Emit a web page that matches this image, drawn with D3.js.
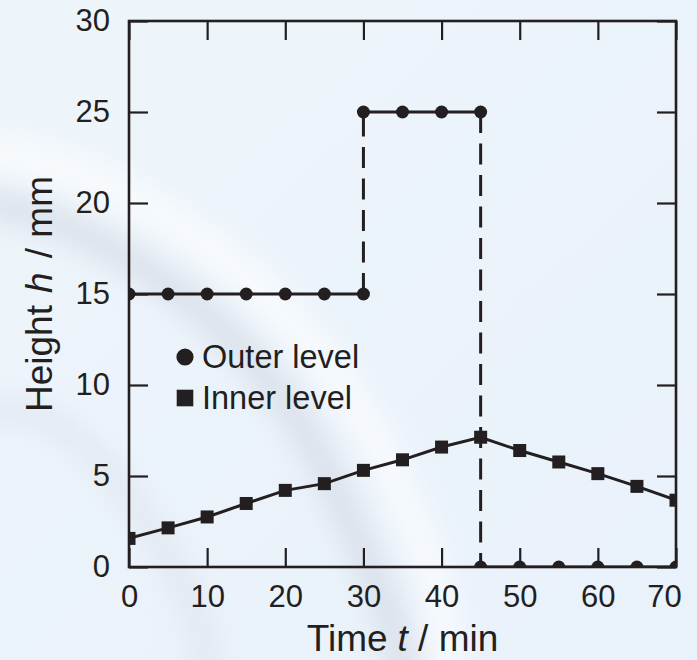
<!DOCTYPE html>
<html>
<head>
<meta charset="utf-8">
<script src="https://cdn.jsdelivr.net/npm/d3@7"></script>
<style>
  html, body { margin: 0; padding: 0; background: #eef6fb; }
  svg { display: block; font-family: "Liberation Sans", Arial, sans-serif; }
</style>
</head>
<body>
<svg id="chart"></svg>
<script>
// data
const innerTimes = [0, 5, 10, 15, 20, 25, 30, 35, 40, 45, 50, 55, 60, 65, 70];
const innerHeights = [1.57, 2.15, 2.75, 3.49, 4.21, 4.58, 5.31, 5.89, 6.59, 7.13, 6.40, 5.77, 5.13, 4.43, 3.67];

// outer level steps: a repeated time means a jump (drawn dashed)
const outerTimes = [0, 5, 10, 15, 20, 25, 30, 30, 35, 40, 45, 45, 50, 55, 60, 65, 70];
const outerHeights = [15, 15, 15, 15, 15, 15, 15, 25, 25, 25, 25, 0, 0, 0, 0, 0, 0];

const xTicks = [0, 10, 20, 30, 40, 50, 60, 70];
const yTicks = [0, 5, 10, 15, 20, 25, 30];
const legendLabels = ["Outer level", "Inner level"];

const ink = "#231f20";
const w = 697, h = 660;
const margin = { top: 21, right: 21, bottom: 93, left: 129 };

const svg = d3.select("#chart").attr("width", w).attr("height", h);

// soft background with faint swooshes
const defs = svg.append("defs");
defs.append("filter").attr("id", "blur")
    .attr("x", "-50%").attr("y", "-50%").attr("width", "200%").attr("height", "200%")
    .append("feGaussianBlur").attr("stdDeviation", 14);
const bgGrad = defs.append("linearGradient").attr("id", "bg")
    .attr("x1", "0").attr("y1", "0").attr("x2", "1").attr("y2", "1");
bgGrad.append("stop").attr("offset", "0").attr("stop-color", "#eef5fa");
bgGrad.append("stop").attr("offset", "1").attr("stop-color", "#e9f1fa");
svg.append("rect").attr("width", w).attr("height", h).attr("fill", "url(#bg)");

const swoosh = svg.append("g").attr("filter", "url(#blur)").attr("fill", "none");
swoosh.append("path")
    .attr("d", "M-20,200 C120,230 260,330 330,480 S400,640 410,700")
    .attr("stroke", "#c9ced8").attr("stroke-width", 26).attr("opacity", 0.55);
swoosh.append("path")
    .attr("d", "M-20,150 C140,170 300,290 380,450 S440,640 450,700")
    .attr("stroke", "#ffffff").attr("stroke-width", 30).attr("opacity", 0.7);
swoosh.append("path")
    .attr("d", "M-20,420 C40,380 120,470 170,560 S200,660 210,700")
    .attr("stroke", "#d3d8e0").attr("stroke-width", 22).attr("opacity", 0.45);

const x = d3.scaleLinear().domain([0, 70]).range([margin.left, w - margin.right]);
const y = d3.scaleLinear().domain([0, 30]).range([h - margin.bottom, margin.top]);

const tickLen = 19;

// axes with inward ticks on all four sides
const bottom = svg.append("g")
    .attr("transform", `translate(0,${y(0)})`)
    .call(d3.axisBottom(x).tickValues(xTicks).tickSize(-tickLen).tickFormat(d3.format("d")));
bottom.selectAll("text").attr("y", 40).attr("dy", null);
bottom.selectAll(".tick").filter(d => d === 70).select("text").attr("dx", -12);

svg.append("g")
    .attr("transform", `translate(0,${y(30)})`)
    .call(d3.axisTop(x).tickValues(xTicks).tickSize(-tickLen).tickFormat(""));

svg.append("g")
    .attr("transform", `translate(${x(0)},0)`)
    .call(d3.axisLeft(y).tickValues(yTicks).tickSize(-tickLen).tickPadding(19).tickFormat(d3.format("d")));

svg.append("g")
    .attr("transform", `translate(${x(70)},0)`)
    .call(d3.axisRight(y).tickValues(yTicks).tickSize(-tickLen).tickFormat(""));

svg.selectAll(".domain").remove();
svg.selectAll(".tick line").attr("stroke", ink).attr("stroke-width", 2.2);
svg.selectAll(".tick text").attr("fill", ink).style("font-size", "31px");

// frame
svg.append("rect")
    .attr("x", x(0)).attr("y", y(30))
    .attr("width", x(70) - x(0)).attr("height", y(0) - y(30))
    .attr("fill", "none").attr("stroke", ink).attr("stroke-width", 2.6);

defs.append("clipPath").attr("id", "plotClip")
    .append("rect")
    .attr("x", x(0)).attr("y", y(30))
    .attr("width", x(70) - x(0)).attr("height", y(0) - y(30));

const plot = svg.append("g").attr("clip-path", "url(#plotClip)");

// outer level: solid between times, dashed on jumps
const outer = outerTimes.map((t, i) => ({ t: t, v: outerHeights[i] }));
const segs = d3.pairs(outer);
plot.append("g")
    .selectAll("line")
    .data(segs)
    .join("line")
    .attr("x1", d => x(d[0].t)).attr("y1", d => y(d[0].v))
    .attr("x2", d => x(d[1].t)).attr("y2", d => y(d[1].v))
    .attr("stroke", ink)
    .attr("stroke-width", 3)
    .attr("stroke-dasharray", d => d[0].t === d[1].t ? "21,10.5" : null);

// inner level line
const inner = innerTimes.map((t, i) => ({ t: t, v: innerHeights[i] }));
plot.append("path")
    .datum(inner)
    .attr("fill", "none")
    .attr("stroke", ink)
    .attr("stroke-width", 3)
    .attr("d", d3.line().x(d => x(d.t)).y(d => y(d.v)));

plot.append("g")
    .selectAll("circle")
    .data(outer)
    .join("circle")
    .attr("cx", d => x(d.t)).attr("cy", d => y(d.v))
    .attr("r", 6.5)
    .attr("fill", ink);

const sq = 13;
plot.append("g")
    .selectAll("rect")
    .data(inner)
    .join("rect")
    .attr("x", d => x(d.t) - sq / 2).attr("y", d => y(d.v) - sq / 2)
    .attr("width", sq).attr("height", sq)
    .attr("fill", ink);

// legend
const legend = svg.append("g").attr("transform", "translate(185,357)");
legend.append("circle").attr("cx", 0).attr("cy", 0).attr("r", 8.6).attr("fill", ink);
legend.append("rect").attr("x", -8.3).attr("y", 41 - 8.3).attr("width", 16.6).attr("height", 16.6).attr("fill", ink);
legend.selectAll("text")
    .data(legendLabels)
    .join("text")
    .attr("x", 17)
    .attr("y", (d, i) => 10.5 + i * 41)
    .attr("fill", ink)
    .style("font-size", "32.5px")
    .text(d => d);

// axis titles
const xTitle = svg.append("text")
    .attr("x", (x(0) + x(70)) / 2)
    .attr("y", 651)
    .attr("text-anchor", "middle")
    .attr("fill", ink)
    .style("font-size", "37px");
xTitle.append("tspan").text("Time");
xTitle.append("tspan").attr("dx", 10).style("font-style", "italic").text("t");
xTitle.append("tspan").text(" / min");

const yTitle = svg.append("text")
    .attr("transform", `translate(52,${(y(0) + y(30)) / 2}) rotate(-90)`)
    .attr("text-anchor", "middle")
    .attr("fill", ink)
    .style("font-size", "37px");
yTitle.append("tspan").text("Height");
yTitle.append("tspan").attr("dx", 12).style("font-style", "italic").text("h");
yTitle.append("tspan").attr("dx", 4).text(" / mm");
</script>
</body>
</html>
